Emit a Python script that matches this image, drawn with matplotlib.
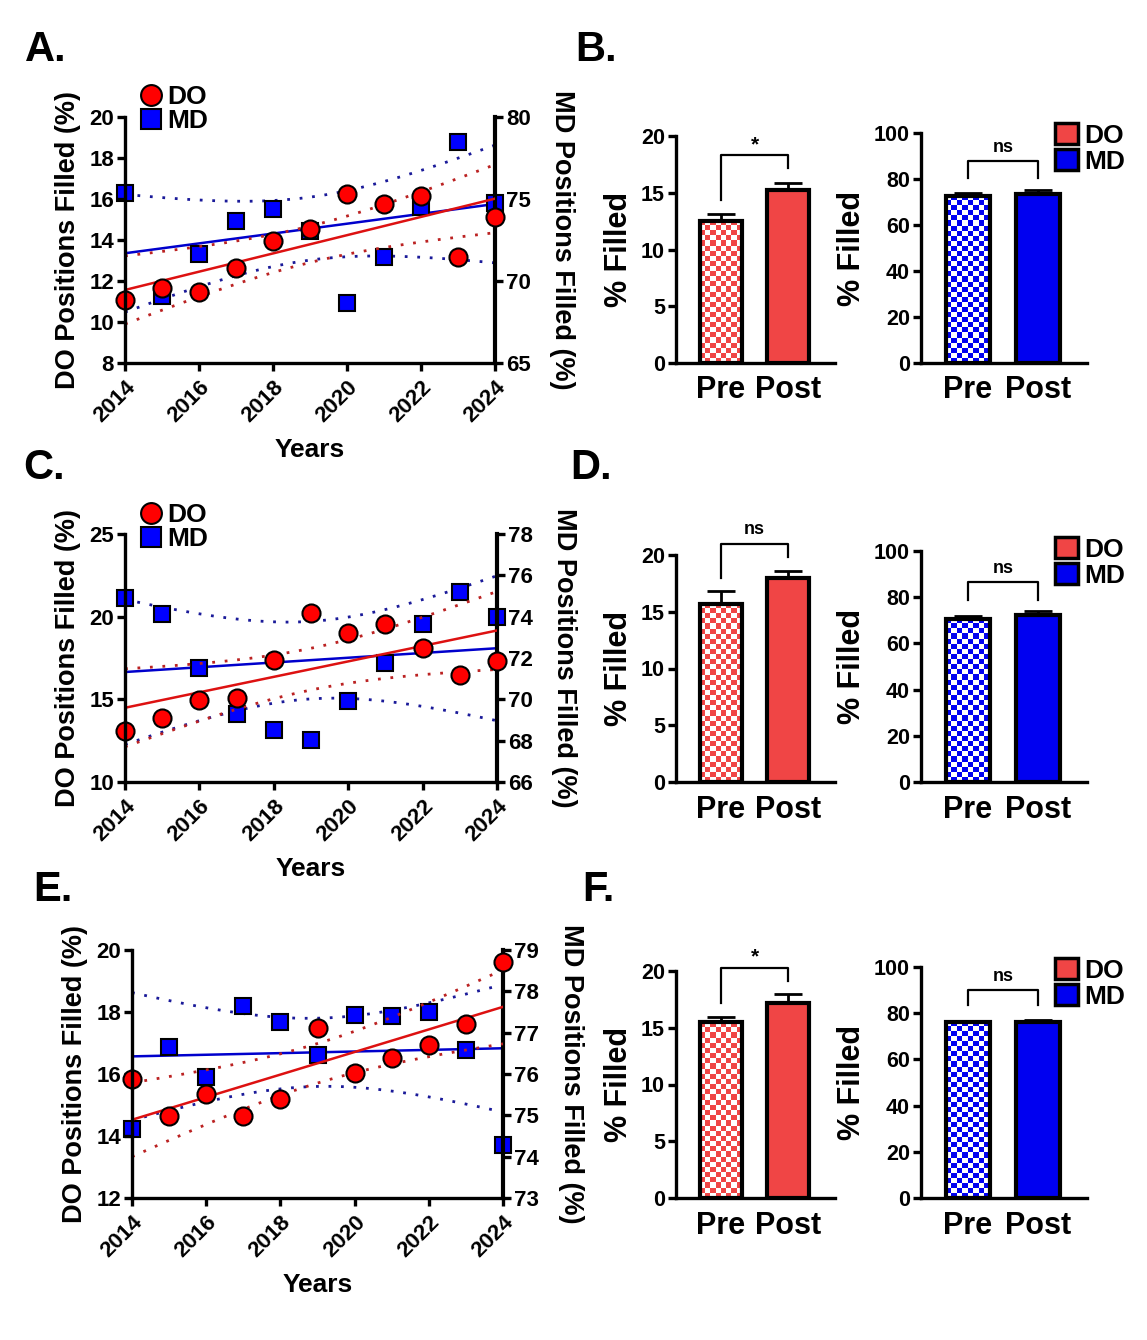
import matplotlib.pyplot as plt
import numpy as np
from matplotlib.colors import ListedColormap
from matplotlib.lines import Line2D
from matplotlib.patches import Patch

plt.rcParams.update({
    "font.family": ["Liberation Sans", "DejaVu Sans"],
    "font.weight": "bold",
    "axes.labelweight": "bold",
    "axes.linewidth": 2.4,
    "xtick.major.width": 2.4,
    "ytick.major.width": 2.4,
    "xtick.major.size": 6,
    "ytick.major.size": 6,
    "xtick.color": "black",
    "ytick.color": "black",
})

W, H = 1147, 1340

years = np.arange(2014, 2025)

# panel A
do_a = [11.05, 11.66, 11.44, 12.63, 13.95, 14.56, 16.23, 15.74, 16.15, 13.15, 15.13]
md_a = [75.38, 69.11, 71.63, 73.67, 74.37, 73.04, 68.67, 71.49, 74.52, 78.49, 74.76]
# panel C
do_c = [13.10, 13.89, 14.97, 15.11, 17.36, 20.20, 19.02, 19.53, 18.13, 16.45, 17.34]
md_c = [74.89, 74.11, 71.51, 69.28, 68.51, 68.03, 69.94, 71.76, 73.65, 75.21, 73.98]
# panel E
do_e = [15.84, 14.63, 15.35, 14.63, 15.19, 17.49, 16.02, 16.51, 16.92, 17.62, 19.60]
md_e = [74.66, 76.66, 75.92, 77.64, 77.26, 76.46, 77.42, 77.40, 77.50, 76.57, 74.28]

groups = ["Pre", "Post"]
# panels B, D, F: mean and SEM (DO left, MD right)
do_bar_b, do_err_b = [12.55, 15.26], [0.62, 0.62]
md_bar_b, md_err_b = [72.65, 73.4], [1.3, 1.6]
do_bar_d, do_err_d = [15.7, 17.95], [1.1, 0.64]
md_bar_d, md_err_d = [70.7, 72.45], [1.3, 1.45]
do_bar_f, do_err_f = [15.47, 17.22], [0.44, 0.73]
md_bar_f, md_err_f = [76.4, 76.4], [0.3, 0.8]
# significance: label, bracket top, left leg end, right leg end
sig_b = [("*", 18.3, 14.4, 17.2), ("ns", 87.8, 80.3, 80.3)]
sig_d = [("ns", 21.0, 18.0, 19.85), ("ns", 86.5, 78.8, 78.8)]
sig_f = [("*", 20.3, 17.2, 19.1), ("ns", 89.9, 83.6, 83.6)]

RED = "#ff0000"
BLUE = "#0000ff"
BAR_RED = "#f04545"
BAR_BLUE = "#0000f0"

fig = plt.figure(figsize=(W / 100, H / 100), dpi=100)


def rect(l, r, t, b):
    return [l / W, 1 - b / H, (r - l) / W, (b - t) / H]


def fit_band(x, y):
    x = np.asarray(x, float)
    y = np.asarray(y, float)
    n = len(x)
    slope, icpt = np.polyfit(x, y, 1)
    xs = np.linspace(x.min(), x.max(), 200)
    fit = icpt + slope * xs
    resid = y - (icpt + slope * x)
    s = np.sqrt(np.sum(resid ** 2) / (n - 2))
    se = s * np.sqrt(1 / n + (xs - x.mean()) ** 2 / np.sum((x - x.mean()) ** 2))
    t = 2.262  # t(0.975, df=9)
    return xs, fit, fit - t * se, fit + t * se


def trend_panel(r, do, md, do_lim, do_step, md_lim, md_step, leg_xy=None):
    ax = fig.add_axes(r)
    ax2 = ax.twinx()
    ax.set_zorder(ax2.get_zorder() + 1)
    ax.patch.set_visible(False)

    xs, fit, lo, hi = fit_band(years, md)
    ax2.plot(xs, fit, color="#0000cc", lw=1.8)
    ax2.plot(xs, lo, color="#1a1a99", lw=2, ls=(0, (1, 3.5)))
    ax2.plot(xs, hi, color="#1a1a99", lw=2, ls=(0, (1, 3.5)))
    ax2.plot(years, md, "s", ms=12, mfc=BLUE, mec="black", mew=1.5, clip_on=False)

    xs, fit, lo, hi = fit_band(years, do)
    ax.plot(xs, fit, color="#dd1111", lw=1.8)
    ax.plot(xs, lo, color="#bb2222", lw=2, ls=(0, (1, 3.5)))
    ax.plot(xs, hi, color="#bb2222", lw=2, ls=(0, (1, 3.5)))
    ax.plot(years, do, "o", ms=13, mfc=RED, mec="black", mew=1.5, clip_on=False)

    ax.set_xlim(2014, 2024)
    ax.set_ylim(*do_lim)
    ax.set_yticks(np.arange(do_lim[0], do_lim[1] + 0.1, do_step))
    ax2.set_ylim(*md_lim)
    ax2.set_yticks(np.arange(md_lim[0], md_lim[1] + 0.1, md_step))
    ax.set_xticks(np.arange(2014, 2025, 2))
    ax.tick_params(axis="x", labelsize=16, pad=4)
    ax.tick_params(axis="y", labelsize=16, pad=2)
    ax2.tick_params(axis="y", labelsize=16, pad=2)
    for lab in ax.get_xticklabels():
        lab.set_rotation(45)
        lab.set_ha("right")
        lab.set_rotation_mode("anchor")
    for a in (ax, ax2):
        a.spines["top"].set_visible(False)
    ax.spines["right"].set_visible(False)
    ax2.spines["left"].set_visible(False)
    ax2.spines["bottom"].set_visible(False)
    ax2.spines["right"].set_linewidth(3)
    ax.set_xlabel("Years", fontsize=19, labelpad=8)
    ax.set_ylabel("DO Positions Filled (%)", fontsize=19.5, labelpad=6)
    ax2.set_ylabel("MD Positions Filled (%)", fontsize=19.5, rotation=270, labelpad=32)

    if leg_xy is not None:
        handles = [
            Line2D([], [], ls="none", marker="o", ms=15, mfc=RED, mec="black", mew=1.5),
            Line2D([], [], ls="none", marker="s", ms=14, mfc=BLUE, mec="black", mew=1.5),
        ]
        fig.legend(handles, ["DO", "MD"], loc="upper left",
                   bbox_to_anchor=(leg_xy[0] / W, 1 - leg_xy[1] / H),
                   frameon=False, fontsize=19, handletextpad=-0.15,
                   labelspacing=0.0, borderpad=0, handlelength=1.5)
    return ax


def checker_fill(ax, bar, color, axes_px_h, ylim_top):
    x0 = bar.get_x()
    w = bar.get_width()
    h = bar.get_height()
    h_px = h / ylim_top * axes_px_h
    nx = 8
    ny = max(1, int(round(h_px / 5.1)))
    board = np.indices((ny, nx)).sum(axis=0) % 2
    im = ax.imshow(board, cmap=ListedColormap(["white", color]),
                   extent=(x0, x0 + w, 0, h), aspect="auto",
                   interpolation="nearest", zorder=2.1, origin="lower")
    im.set_clip_path(bar)


def bar_panel(r, vals, errs, ytop, ystep, color, sig, px_h, legend_xy=None):
    ax = fig.add_axes(r)
    x = np.arange(len(groups))
    width = 0.62
    ax.errorbar(x, vals, yerr=[[0] * len(vals), errs], fmt="none", ecolor="black",
                elinewidth=2, capsize=10, capthick=2, zorder=1)
    base = ax.bar(x, vals, width=width, color=["white", color], edgecolor="none", zorder=2)
    checker_fill(ax, base[0], color, px_h, ytop)
    ax.bar(x, vals, width=width, color="none", edgecolor="black", linewidth=3, zorder=3)

    label, top, l_end, r_end = sig
    ax.plot([0, 0, 1, 1], [l_end, top, top, r_end], color="black", lw=1.6, clip_on=False)
    ax.annotate(label, (0.5, top), xytext=(0, 4 if label == "ns" else 1),
                textcoords="offset points", ha="center", va="bottom",
                fontsize=13 if label == "ns" else 15, annotation_clip=False)

    ax.set_xlim(-0.67, 1.7)
    ax.set_ylim(0, ytop)
    ax.set_yticks(np.arange(0, ytop + 0.1, ystep))
    ax.set_xticks(x)
    ax.set_xticklabels(groups, fontsize=22)
    ax.tick_params(axis="x", length=0, pad=9)
    ax.tick_params(axis="y", labelsize=15.5, pad=2)
    ax.spines["top"].set_visible(False)
    ax.spines["right"].set_visible(False)
    ax.set_ylabel("% Filled", fontsize=22, labelpad=5)

    if legend_xy is not None:
        handles = [Patch(facecolor=BAR_RED, edgecolor="black", lw=2.5),
                   Patch(facecolor=BAR_BLUE, edgecolor="black", lw=2.5)]
        fig.legend(handles, ["DO", "MD"], loc="upper left",
                   bbox_to_anchor=(legend_xy[0] / W, 1 - legend_xy[1] / H),
                   frameon=False, fontsize=19, handlelength=0.85, handleheight=0.85,
                   handletextpad=0.25, labelspacing=0.05, borderpad=0)
    return ax


# line panels
trend_panel(rect(125, 495, 117, 363), do_a, md_a, (8, 20), 2, (65, 80), 5, (118, 72))
trend_panel(rect(125, 497, 534, 782), do_c, md_c, (10, 25), 5, (66, 78), 2, (118, 490))
trend_panel(rect(132, 503, 950, 1198), do_e, md_e, (12, 20), 2, (73, 79), 1)

# bar panels
bar_panel(rect(676, 835, 136, 363), do_bar_b, do_err_b, 20, 5, BAR_RED, sig_b[0], 227)
bar_panel(rect(921, 1087, 133, 363), md_bar_b, md_err_b, 100, 20, BAR_BLUE, sig_b[1], 230, (1042, 110))
bar_panel(rect(676, 835, 555, 782), do_bar_d, do_err_d, 20, 5, BAR_RED, sig_d[0], 227)
bar_panel(rect(921, 1087, 551, 782), md_bar_d, md_err_d, 100, 20, BAR_BLUE, sig_d[1], 231, (1042, 524))
bar_panel(rect(676, 835, 971, 1198), do_bar_f, do_err_f, 20, 5, BAR_RED, sig_f[0], 227)
bar_panel(rect(921, 1087, 967, 1198), md_bar_f, md_err_f, 100, 20, BAR_BLUE, sig_f[1], 231, (1042, 945))

# panel letters
for letter, x, y in [("A.", 25, 50), ("B.", 575, 50), ("C.", 23, 468),
                     ("D.", 570, 468), ("E.", 33, 890), ("F.", 582, 890)]:
    fig.text(x / W, 1 - y / H, letter, fontsize=30, fontweight="bold", va="center", ha="left")

fig.savefig("out.png", dpi=100)
